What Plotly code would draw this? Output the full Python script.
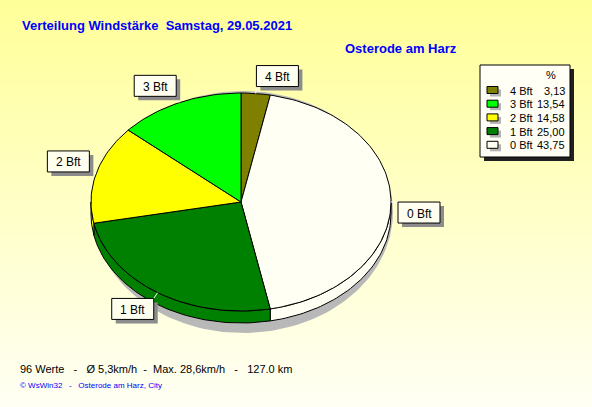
import numpy as np
import plotly.graph_objects as go

# ---- data ----
labels = ["0 Bft", "1 Bft", "2 Bft", "3 Bft", "4 Bft"]
percent = [43.75, 25.00, 14.58, 13.54, 3.13]
pct_text = ["43,75", "25,00", "14,58", "13,54", "3,13"]
colors = ["#FFFFF4", "#008000", "#FFFF00", "#00FF00", "#808000"]
draw_order = [4, 0, 1, 2, 3]          # clockwise from 12 o'clock
legend_order = [4, 3, 2, 1, 0]

title_text = "Verteilung Windstärke\u00a0\u00a0Samstag, 29.05.2021"
station_text = "Osterode am Harz"
stats_text = "96 Werte \u00a0 - \u00a0 Ø 5,3km/h \u00a0-\u00a0 Max. 28,6km/h \u00a0 - \u00a0 127.0 km"
credit_text = "© WsWin32 \u00a0 - \u00a0 Osterode am Harz, City"

# ---- geometry (pixel space) ----
W, H = 592, 407
cx, cy, rx, ry, depth = 241, 202, 150, 109, 12
FONT = "Liberation Sans, Arial, sans-serif"


def ept(a_deg, dy=0.0, ex=0.0, ey=0.0):
    a = np.radians(a_deg)
    return cx + (rx + ex) * np.cos(a), cy - (ry + ey) * np.sin(a) + dy


def arc(a1, a2, dy=0.0, n=None):
    if n is None:
        n = max(3, int(abs(a2 - a1) / 1.5) + 2)
    ang = np.linspace(a1, a2, n)
    xs, ys = ept(ang, dy)
    return list(xs), list(ys)


fig = go.Figure()
shapes = []
annotations = []

# background gradient
nb = 120
top = np.array([255, 255, 153])
bot = np.array([255, 255, 244])
for i in range(nb):
    t = i / (nb - 1)
    c = top + (bot - top) * t
    shapes.append(dict(type="rect", xref="paper", yref="paper",
                       x0=0, x1=1, y0=1 - i / nb, y1=1 - (i + 1) / nb - 0.002,
                       fillcolor="rgb(%d,%d,%d)" % tuple(c.round()),
                       line=dict(width=0), layer="below"))

# shadow ellipse
ang = np.linspace(0, 360, 200)
sx = cx + 2 + rx * np.cos(np.radians(ang))
sy = cy + depth / 2 + 4 - (ry + depth / 2 + 6) * np.sin(np.radians(ang))
fig.add_trace(go.Scatter(x=sx, y=sy, mode="lines", fill="toself",
                         fillcolor="#B8B8B8", line=dict(width=0),
                         hoverinfo="skip"))

# slice angles
total = sum(percent)
spans = {}
start = 90.0
for idx in draw_order:
    span = percent[idx] / total * 360.0
    spans[idx] = (start, start - span)
    start -= span

# 3D sides (lower half)
for idx in draw_order:
    a1, a2 = spans[idx]
    lo, hi = max(a2, -180.0), min(a1, 0.0)
    if lo < hi:
        tx, ty = arc(lo, hi, 0)
        bx, by = arc(hi, lo, depth)
        fig.add_trace(go.Scatter(x=tx + bx + [tx[0]], y=ty + by + [ty[0]],
                                 mode="lines", fill="toself",
                                 fillcolor=colors[idx],
                                 line=dict(color="black", width=1),
                                 hoverinfo="skip"))

# top faces
for idx in draw_order:
    a1, a2 = spans[idx]
    xs, ys = arc(a1, a2)
    fig.add_trace(go.Scatter(x=[cx] + xs + [cx], y=[cy] + ys + [cy],
                             mode="lines", fill="toself",
                             fillcolor=colors[idx],
                             line=dict(color="black", width=1),
                             hoverinfo="skip", name=labels[idx]))

# slice labels
bw, bh = 42, 21
for idx in draw_order:
    a1, a2 = spans[idx]
    mid = (a1 + a2) / 2
    px, py = ept(mid)
    ax, ay = ept(mid, ex=7, ey=7)
    c, s = np.cos(np.radians(mid)), np.sin(np.radians(mid))
    x0 = ax if c >= 0 else ax - bw
    y0 = ay - bh if s > 0 else ay
    shapes.append(dict(type="line", xref="x", yref="y", x0=px, y0=py,
                       x1=ax, y1=ay, line=dict(color="white", width=1)))
    shapes.append(dict(type="rect", xref="x", yref="y", x0=x0 + 4, x1=x0 + bw + 4,
                       y0=y0 + 4, y1=y0 + bh + 4, fillcolor="#8C8C8C",
                       line=dict(width=0)))
    shapes.append(dict(type="rect", xref="x", yref="y", x0=x0, x1=x0 + bw,
                       y0=y0, y1=y0 + bh, fillcolor="#FFFFF0",
                       line=dict(color="black", width=1)))
    annotations.append(dict(x=x0 + bw / 2, y=y0 + bh / 2 + 1, xref="x", yref="y",
                            text=labels[idx], showarrow=False,
                            font=dict(family=FONT, size=12, color="black")))

# legend box
lx0, ly0, lx1, ly1 = 480, 65, 570, 157
shapes.append(dict(type="rect", xref="x", yref="y", x0=lx0 + 4, x1=lx1 + 4,
                   y0=ly0 + 4, y1=ly1 + 4, fillcolor="#202020", line=dict(width=0)))
shapes.append(dict(type="rect", xref="x", yref="y", x0=lx0, x1=lx1, y0=ly0, y1=ly1,
                   fillcolor="#FFFFF6", line=dict(color="black", width=1)))
annotations.append(dict(x=551, y=75, xref="x", yref="y", text="%", showarrow=False,
                        font=dict(family=FONT, size=11, color="black")))
row_y0, row_dy = 90.5, 13.7
for r, idx in enumerate(legend_order):
    yc = row_y0 + r * row_dy
    shapes.append(dict(type="rect", xref="x", yref="y", x0=490, x1=501,
                       y0=yc - 1, y1=yc + 6, fillcolor="#B4B4B4", line=dict(width=0)))
    shapes.append(dict(type="rect", xref="x", yref="y", x0=487, x1=498,
                       y0=yc - 4, y1=yc + 3, fillcolor=colors[idx],
                       line=dict(color="black", width=1)))
    annotations.append(dict(x=508, y=yc, xref="x", yref="y", text=labels[idx],
                            showarrow=False, xanchor="left",
                            font=dict(family=FONT, size=11, color="black")))
    annotations.append(dict(x=567, y=yc, xref="x", yref="y", text=pct_text[idx],
                            showarrow=False, xanchor="right",
                            font=dict(family=FONT, size=11, color="black")))

# titles and footer
annotations.append(dict(x=20, y=25, xref="x", yref="y", text=title_text,
                        showarrow=False, xanchor="left",
                        font=dict(family=FONT, size=13, color="#0000FF", weight="bold")))
annotations.append(dict(x=343, y=48, xref="x", yref="y", text=station_text,
                        showarrow=False, xanchor="left",
                        font=dict(family=FONT, size=13, color="#0000FF", weight="bold")))
annotations.append(dict(x=18, y=369, xref="x", yref="y", text=stats_text,
                        showarrow=False, xanchor="left",
                        font=dict(family=FONT, size=11, color="black")))
annotations.append(dict(x=18, y=385, xref="x", yref="y", text=credit_text,
                        showarrow=False, xanchor="left",
                        font=dict(family=FONT, size=8, color="#0000FF")))

fig.update_layout(
    width=W, height=H,
    margin=dict(l=0, r=0, t=0, b=0),
    paper_bgcolor="#FFFFCC", plot_bgcolor="rgba(0,0,0,0)",
    showlegend=False,
    xaxis=dict(range=[0, W], visible=False, fixedrange=True),
    yaxis=dict(range=[H, 0], visible=False, fixedrange=True),
    shapes=shapes, annotations=annotations,
)

fig.write_html("out.html", config={"displayModeBar": False},
               post_script="document.body.style.margin='0';document.body.style.overflow='hidden';")
